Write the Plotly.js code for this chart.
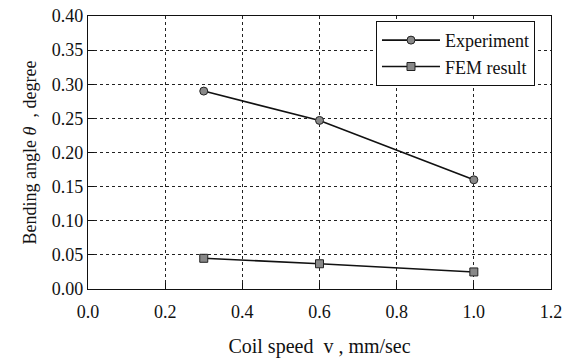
<!DOCTYPE html>
<html><head><meta charset="utf-8">
<script src="https://cdn.plot.ly/plotly-3.0.1.min.js"></script>
<style>html,body{margin:0;padding:0;background:#fff}#c{width:571px;height:358px}</style>
</head><body><div id="c"></div>
<script>
const speed = [0.3, 0.6, 1.0];
const experiment = [0.290, 0.247, 0.160];
const fem = [0.045, 0.037, 0.025];
const seriesNames = ["Experiment", "FEM result"];

const fam = "'Times New Roman', 'Liberation Serif', 'DejaVu Serif', serif";
const font = {family: fam, color: "#111", size: 17};
const traces = [
  {x: speed, y: experiment, name: seriesNames[0], legendgroup: "a", mode: "lines+markers",
   line: {color: "#111", width: 1.6},
   marker: {symbol: "circle", size: 8, color: "#888", line: {color: "#222", width: 1}}},
  {x: speed, y: fem, name: seriesNames[1], legendgroup: "b", mode: "lines+markers",
   line: {color: "#111", width: 1.6},
   marker: {symbol: "square", size: 8, color: "#888", line: {color: "#222", width: 1}}}
];
const axisCommon = {showline: true, linecolor: "#111", linewidth: 1.2, mirror: true,
  showgrid: true, gridcolor: "#222", griddash: "dot", gridwidth: 1,
  ticks: "inside", ticklen: 6, tickcolor: "#111", zeroline: false,
  tickfont: {family: fam, size: 18, color: "#111"}};
const layout = {
  width: 571, height: 358,
  margin: {l: 88, r: 20, t: 16, b: 69},
  paper_bgcolor: "#fff", plot_bgcolor: "#fff",
  font: font,
  showlegend: true,
  legend: {x: 0.622, y: 0.982, xanchor: "left", yanchor: "top",
    bordercolor: "#111", borderwidth: 1, bgcolor: "#fff", traceorder: "grouped",
    font: {family: fam, size: 18, color: "#111"}, itemwidth: 58, tracegroupgap: 0},
  xaxis: Object.assign({}, axisCommon, {range: [0, 1.2], dtick: 0.2, tickformat: ".1f", ticklabelstandoff: 6,
    title: {text: "Coil speed  v , mm/sec", font: {family: fam, size: 20, color: "#111"}, standoff: 18}}),
  yaxis: Object.assign({}, axisCommon, {range: [0, 0.4], dtick: 0.05, tickformat: ".2f",
    title: {text: "Bending angle <i>θ</i>  , degree", font: {family: fam, size: 18, color: "#111"}, standoff: 10}})
};
Plotly.newPlot("c", traces, layout, {displayModeBar: false, staticPlot: true});
</script></body></html>
